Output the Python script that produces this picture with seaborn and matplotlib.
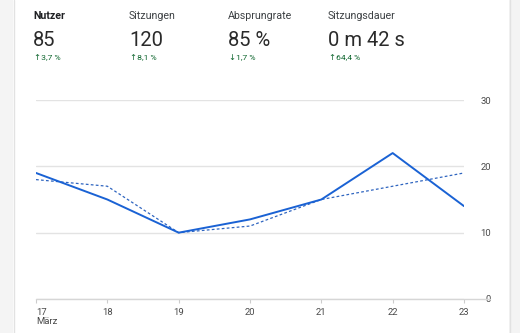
import matplotlib
matplotlib.use("Agg")
import matplotlib.pyplot as plt
from matplotlib.patches import Rectangle
from matplotlib.lines import Line2D
import seaborn as sns
import pandas as pd

# Tages-Beschriftungen und Werte
tage = ["17\nMärz", "18", "19", "20", "21", "22", "23"]
nutzer_aktuell = [19, 15, 10, 12, 15, 22, 14]
nutzer_vorher = [18, 17, 10, 11, 15, 17, 19]
y_ticks = [0, 10, 20, 30]

kennzahlen = ["Nutzer", "Sitzungen", "Absprungrate", "Sitzungsdauer"]
kennzahl_werte = ["85", "120", "85 %", "0 m 42 s"]
veraenderungen = ["↑3,7 %", "↑8,1 %", "↓1,7 %", "↑64,4 %"]

sns.set_theme(style="white")
plt.rcParams["font.family"] = ["Roboto", "DejaVu Sans"]

W, H = 520, 333
fig = plt.figure(figsize=(W / 100, H / 100), dpi=100)


def fx(px):
    return px / W


def fy(py):
    return 1 - py / H


# Seitenränder der Karte
fig.patches.append(Rectangle((0, 0), fx(13), 1, transform=fig.transFigure,
                             facecolor="#f4f4f4", edgecolor="none", zorder=0))
fig.lines.append(Line2D([fx(13.5), fx(13.5)], [0, 1], transform=fig.transFigure,
                        color="#e2e2e2", lw=1))
fig.patches.append(Rectangle((fx(509), 0), 1 - fx(509), 1, transform=fig.transFigure,
                             facecolor="#f4f4f4", edgecolor="none", zorder=0))
fig.lines.append(Line2D([fx(509.5), fx(509.5)], [0, 1], transform=fig.transFigure,
                        color="#e2e2e2", lw=1))

# Kennzahlen-Kopfzeile
spalten_x = [34, 130, 229, 329]
for i, (name, wert, delta) in enumerate(zip(kennzahlen, kennzahl_werte, veraenderungen)):
    x = fx(spalten_x[i])
    fig.text(x - fx(1), fy(16), name, fontsize=7.7, color="#202124" if i == 0 else "#3c4043",
             fontweight="bold" if i == 0 else "normal", va="center", ha="left")
    fig.text(x - fx(1), fy(40), wert, fontsize=14.5, color="#2a2a2a",
             fontweight="normal", va="center", ha="left")
    fig.text(x, fy(58), delta, fontsize=6.1, color="#0d652d",
             va="center", ha="left", family=["Roboto", "DejaVu Sans"])

# Diagrammbereich
ax = fig.add_axes([fx(36), fy(299), fx(464) - fx(36), fy(100) - fy(299)])

df = pd.DataFrame({
    "tag": list(range(len(tage))) * 2,
    "nutzer": nutzer_aktuell + nutzer_vorher,
    "zeitraum": ["aktuell"] * len(tage) + ["vorher"] * len(tage),
})

sns.lineplot(data=df[df.zeitraum == "aktuell"], x="tag", y="nutzer", ax=ax,
             color="#1a62d4", lw=1.4, legend=False, zorder=3)
sns.lineplot(data=df[df.zeitraum == "vorher"], x="tag", y="nutzer", ax=ax,
             color="#2f65c0", lw=0.9, linestyle=(0, (2.2, 1.8)), legend=False, zorder=2)

ax.set_xlim(0, len(tage) - 1)
ax.set_ylim(0, 30)
ax.set_xlabel("")
ax.set_ylabel("")

for s in ax.spines.values():
    s.set_visible(False)

ax.set_yticks(y_ticks)
ax.yaxis.tick_right()
ax.yaxis.grid(True, color="#e3e3e3", lw=1)
ax.tick_params(axis="y", length=0, pad=19.5, labelsize=6.8, labelcolor="#4a4a4a")
for lbl in ax.get_yticklabels():
    lbl.set_horizontalalignment("right")

ax.set_xticks(range(len(tage)))
ax.set_xticklabels(tage)
ax.tick_params(axis="x", length=3, width=0.8, color="#cccccc", pad=3.5,
               labelsize=6.8, labelcolor="#4a4a4a", bottom=True)
xl = ax.get_xticklabels()
xl[0].set_horizontalalignment("left")
xl[0].set_linespacing(1.0)

# Grundlinie etwas über den Plotbereich hinaus
ax.add_line(Line2D([0, 1.06], [0, 0], transform=ax.transAxes, color="#d6d6d6",
                   lw=1, clip_on=False, zorder=1))

fig.savefig("out.png", dpi=100)
